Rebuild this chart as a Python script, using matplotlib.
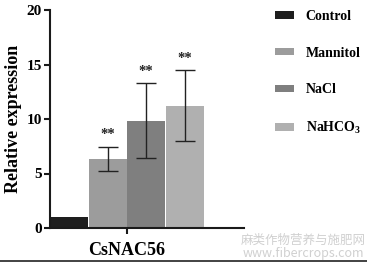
#!/usr/bin/env python3
"""Relative expression of CsNAC56 under stress treatments."""
import matplotlib

matplotlib.use("Agg")
import matplotlib.pyplot as plt
from matplotlib.lines import Line2D

GENE = "CsNAC56"
TREATMENTS = ["Control", "Mannitol", "NaCl", r"NaHCO$_\mathbf{3}$"]
MEANS = [1.0, 6.35, 9.8, 11.15]
ERR_LO = [0.0, 1.1, 3.4, 3.15]
ERR_HI = [0.0, 1.1, 3.5, 3.3]
MARKS = ["", "**", "**", "**"]
COLORS = ["#1e1e1e", "#9c9c9c", "#7f7f7f", "#b0b0b0"]


def main():
    plt.rcParams["font.family"] = ["Liberation Serif", "DejaVu Serif"]
    plt.rcParams["mathtext.fontset"] = "custom"
    plt.rcParams["mathtext.rm"] = "Liberation Serif:bold"
    plt.rcParams["mathtext.bf"] = "Liberation Serif:bold"
    fig = plt.figure(figsize=(3.67, 2.63), dpi=100)
    ax = fig.add_axes([50 / 367, 1 - 228 / 263, 194 / 367, 218 / 263])

    xs = [-1.5, -0.5, 0.5, 1.5]
    for i, (x, m) in enumerate(zip(xs, MEANS)):
        ax.bar(x, m, width=0.98, color=COLORS[i], label=TREATMENTS[i], zorder=2)
        if ERR_HI[i] > 0:
            ax.errorbar(x, m, yerr=[[ERR_LO[i]], [ERR_HI[i]]], fmt="none",
                        ecolor="#222222", elinewidth=1.0, capsize=7.5,
                        capthick=1.0, zorder=3)
        if MARKS[i]:
            ax.text(x, m + ERR_HI[i] + 0.5, MARKS[i], ha="center", va="bottom",
                    fontsize=10.5, fontweight="bold", color="#222222")

    ax.set_xlim(-2, 3.04)
    ax.set_ylim(0, 20)
    ax.set_yticks([0, 5, 10, 15, 20])
    ax.set_xticks([0])
    ax.set_xticklabels([GENE], fontsize=13, fontweight="bold")
    for lab in ax.get_yticklabels():
        lab.set_fontweight("bold")
        lab.set_fontsize(11)
    ax.set_ylabel("Relative expression", fontsize=13, fontweight="bold", labelpad=3)
    for s in ("top", "right"):
        ax.spines[s].set_visible(False)
    for s in ("left", "bottom"):
        ax.spines[s].set_linewidth(1.5)
        ax.spines[s].set_color("#1a1a1a")
    ax.tick_params(axis="both", width=1.5, length=4, color="#1a1a1a", pad=2)
    ax.tick_params(axis="x", pad=6)

    ax.legend(loc="upper left", bbox_to_anchor=(275 / 367, 1 - 10 / 263),
              bbox_transform=fig.transFigure, frameon=False,
              prop={"family": "Liberation Serif", "weight": "bold", "size": 10},
              handlelength=1.4, handleheight=0.45, labelspacing=1.7,
              handletextpad=0.8, borderaxespad=0, borderpad=0)

    fig.text(303 / 367, 1 - 240 / 263, "麻类作物营养与施肥网", ha="center", va="center",
             fontsize=9, color="#d0d0d0", family=["Noto Sans CJK SC", "DejaVu Sans"])
    fig.text(303 / 367, 1 - 253 / 263, "www.fibercrops.com", ha="center", va="center",
             fontsize=9, color="#d0d0d0", family=["Noto Sans CJK SC", "DejaVu Sans"])
    fig.add_artist(Line2D([0, 1], [1 - 261 / 263] * 2, transform=fig.transFigure,
                          color="#222222", lw=1.2))

    fig.savefig("out.png", dpi=100)


if __name__ == "__main__":
    main()
